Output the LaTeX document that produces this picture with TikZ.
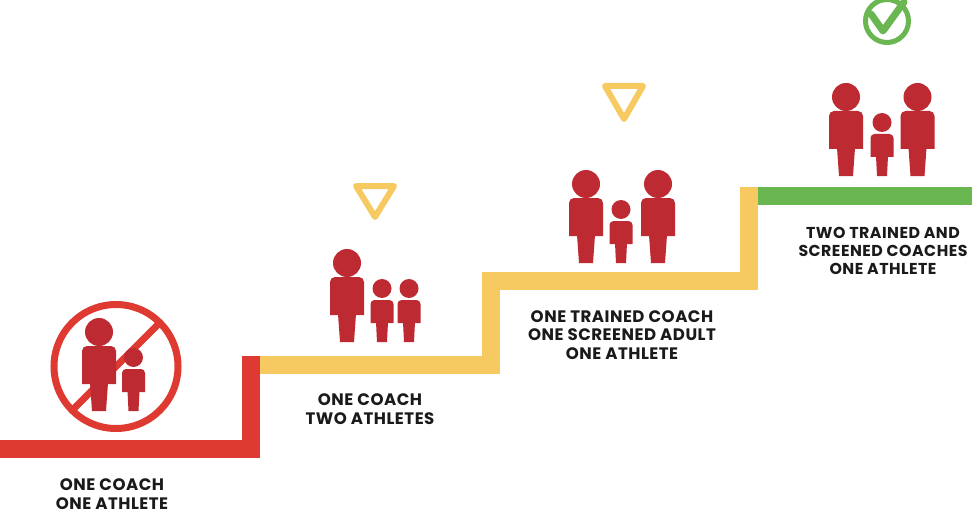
\documentclass[tikz,border=0pt]{standalone}
\usepackage{fontspec}
\setmainfont{Poppins}[LetterSpace=3]
\definecolor{stairRed}{HTML}{DF3A32}
\definecolor{stairYellow}{HTML}{F7CA61}
\definecolor{stairGreen}{HTML}{6AB650}
\definecolor{figRed}{HTML}{BD2A32}
\definecolor{textBlack}{HTML}{1A1A1A}
\tikzset{
  stair/.style={line width=18pt, line join=miter, line cap=butt},
  signline/.style={line width=6pt, line join=round, line cap=round},
  steplabel/.style={align=center, text=textBlack, font=\fontsize{16.6pt}{18.3pt}\selectfont\bfseries, inner sep=0pt},
  adult/.pic={
    \fill[figRed] (0,-79) circle (14);
    \fill[figRed] (-17,-27) [rounded corners=5pt]-- (-17,-65) -- (17,-65) [sharp corners]-- (17,-27) -- cycle;
    \fill[figRed] (-9,-28) -- (9,-28) -- (7,0) -- (-7,0) -- cycle;
  },
  child/.pic={
    \fill[figRed] (0,-53.5) circle (9.5);
    \fill[figRed] (-11.5,-19) [rounded corners=4pt]-- (-11.5,-42) -- (11.5,-42) [sharp corners]-- (11.5,-19) -- cycle;
    \fill[figRed] (-6,-20) -- (6,-20) -- (5,0) -- (-5,0) -- cycle;
  }
}
\begin{document}
\begin{tikzpicture}[x=1pt,y=-1pt]
\useasboundingbox[fill=white] (0,0) rectangle (972,532);
% stairs
\draw[stair, stairRed] (0,449) -- (251,449) -- (251,356);
\draw[stair, stairYellow] (260,365) -- (491,365) -- (491,281) -- (749,281) -- (749,187);
\draw[stair, stairGreen] (758,196) -- (972,196);
% step 1: prohibition sign
\draw[stairRed, line width=7pt] (116,366.5) circle (62);
\draw[stairRed, line width=7pt] (116,366.5) ++(135:62) -- ++(-45:124);
\pic at (99,411) {adult};
\pic at (133.5,411) {child};
% step 2
\draw[signline, stairYellow] (356,186) -- (394,186) -- (375,217) -- cycle;
\pic at (347,342) {adult};
\pic at (382,342) {child};
\pic at (409,342) {child};
% step 3
\draw[signline, stairYellow] (605,86) -- (643,86) -- (624,119) -- cycle;
\pic at (586,263) {adult};
\pic at (621,263) {child};
\pic at (658,263) {adult};
% step 4
\draw[stairGreen, line width=5pt] (887,21) circle (21.5);
\draw[stairGreen, line width=7pt, line cap=round, line join=round] (871,14) -- (883,31) -- (904,2);
\pic at (846,176) {adult};
\pic at (882,176) {child};
\pic at (917.5,176) {adult};
% labels
\node[steplabel] (l1) at (112,494) {ONE COACH\\ONE ATHLETE};
\node[steplabel] (l2) at (370,409) {ONE COACH\\TWO ATHLETES};
\node[steplabel] (l3) at (622,335) {ONE TRAINED COACH\\ONE SCREENED ADULT\\ONE ATHLETE};
\node[steplabel, font=\fontsize{15.8pt}{18.3pt}\selectfont\bfseries] (l4) at (883,251) {TWO TRAINED AND\\SCREENED COACHES\\ONE ATHLETE};
\end{tikzpicture}
\end{document}
